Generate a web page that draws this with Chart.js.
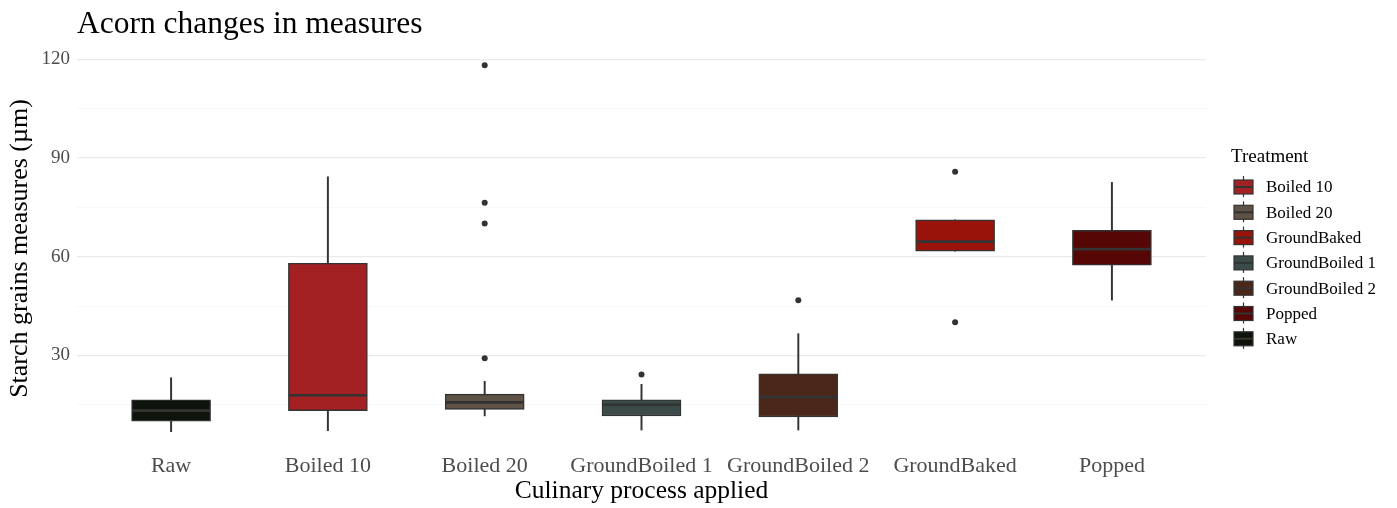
<!DOCTYPE html>
<html>
<head>
<meta charset="utf-8">
<script src="https://cdn.jsdelivr.net/npm/chart.js@4/dist/chart.umd.min.js"></script>
<style>
  html, body { margin: 0; padding: 0; background: #fff; }
  #wrap { width: 1397px; height: 508px; position: relative; }
</style>
</head>
<body>
<div id="wrap"><canvas id="chart"></canvas></div>
<script>
// Data
const categories = ['Raw', 'Boiled 10', 'Boiled 20', 'GroundBoiled 1', 'GroundBoiled 2', 'GroundBaked', 'Popped'];
const whiskerLow  = [6.8, 7.1, 11.6, 7.3, 7.3, 61.7, 46.8];
const q1          = [10.0, 13.2, 13.6, 11.6, 11.3, 61.7, 57.4];
const median      = [13.2, 17.9, 15.7, 15.0, 17.3, 64.6, 62.3];
const q3          = [16.5, 58.0, 18.2, 16.5, 24.4, 71.2, 68.0];
const whiskerHigh = [23.2, 84.3, 22.1, 21.2, 36.6, 71.2, 82.6];
const outlierCat  = [2, 2, 2, 2, 3, 4, 5, 5];
const outlierVal  = [118.2, 76.4, 70.1, 29.1, 24.2, 46.8, 85.8, 40.1];

const fillColors = ['#0e140c', '#a32122', '#5f5246', '#3b4b4a', '#4b271a', '#9a130b', '#560705'];
const OUTLINE = '#333333';
const SERIF = '"Liberation Serif", "Times New Roman", serif';

// ggplot style 5% expansion of the data range
const allVals = whiskerLow.concat(whiskerHigh, outlierVal);
const dMin = Math.min(...allVals), dMax = Math.max(...allVals);
const pad = (dMax - dMin) * 0.05;

const legendOrder = categories.map((c, i) => i).sort((a, b) => categories[a] < categories[b] ? -1 : 1);

// title + legend drawn to match ggplot placement
const decorPlugin = {
    id: 'decor',
    afterDraw(chart) {
        const ctx = chart.ctx;
        const area = chart.chartArea;
        ctx.save();
        // title, aligned with the panel
        ctx.fillStyle = '#000';
        ctx.font = '31.5px ' + SERIF;
        ctx.textBaseline = 'alphabetic';
        ctx.textAlign = 'left';
        ctx.fillText('Acorn changes in measures', area.left, 33);

        // legend
        const lx = area.right + 25;
        ctx.font = '19px ' + SERIF;
        ctx.textBaseline = 'middle';
        ctx.fillText('Treatment', lx, 157);
        ctx.font = '17px ' + SERIF;
        legendOrder.forEach((idx, k) => {
            const cy = 187 + k * 25.3;
            const kx = lx + 3, kw = 19;
            ctx.strokeStyle = OUTLINE;
            ctx.lineWidth = 1.2;
            ctx.beginPath();
            ctx.moveTo(kx + kw / 2, cy - 11);
            ctx.lineTo(kx + kw / 2, cy + 10);
            ctx.stroke();
            ctx.fillStyle = fillColors[idx];
            ctx.fillRect(kx, cy - 7, kw, 14);
            ctx.strokeRect(kx, cy - 7, kw, 14);
            ctx.lineWidth = 2;
            ctx.beginPath();
            ctx.moveTo(kx, cy);
            ctx.lineTo(kx + kw, cy);
            ctx.stroke();
            ctx.fillStyle = '#000';
            ctx.fillText(categories[idx], lx + 35, cy + 1);
        });
        ctx.restore();
    }
};

const ctx = document.getElementById('chart').getContext('2d');
const chart = new Chart(ctx, {
    type: 'bar',
    data: {
        datasets: [{
            // outliers
            type: 'scatter',
            data: outlierCat.map((c, i) => ({ x: c, y: outlierVal[i] })),
            pointRadius: 3,
            pointBackgroundColor: OUTLINE,
            pointBorderWidth: 0,
            order: 1
        }, {
            // medians
            type: 'scatter',
            data: median.map((m, i) => ({ x: i, y: m })),
            pointStyle: 'line',
            pointRadius: 39,
            borderColor: OUTLINE,
            borderWidth: 2.6,
            order: 2
        }, {
            // boxes
            type: 'bar',
            data: q1.map((v, i) => ({ x: i, y: [v, q3[i]] })),
            backgroundColor: fillColors,
            borderColor: OUTLINE,
            borderWidth: 1.4,
            borderSkipped: false,
            barThickness: 79,
            grouped: false,
            order: 3
        }, {
            // whiskers
            type: 'bar',
            data: whiskerLow.map((v, i) => ({ x: i, y: [v, whiskerHigh[i]] })),
            backgroundColor: OUTLINE,
            borderWidth: 0,
            barThickness: 1.3,
            grouped: false,
            order: 4
        }]
    },
    options: {
        responsive: true,
        maintainAspectRatio: false,
        animation: false,
        events: [],
        layout: { padding: { top: 47, right: 191, left: 0, bottom: 0 } },
        plugins: {
            legend: { display: false },
            tooltip: { enabled: false },
            title: { display: false }
        },
        scales: {
            x: {
                type: 'linear',
                offset: false,
                min: -0.6,
                max: categories.length - 0.4,
                afterFit: s => { s.height = 58; },
                grid: { display: false, drawTicks: false, tickLength: 0 },
                border: { display: false },
                ticks: {
                    stepSize: 1,
                    includeBounds: false,
                    autoSkip: false,
                    maxRotation: 0,
                    padding: 3,
                    color: '#4d4d4d',
                    font: { family: SERIF, size: 22 },
                    callback: v => Number.isInteger(v) ? categories[v] : ''
                },
                title: {
                    display: true,
                    text: 'Culinary process applied',
                    color: '#000',
                    font: { family: SERIF, size: 25.5 },
                    padding: { top: 0, bottom: 1 }
                }
            },
            y: {
                min: dMin - pad,
                max: dMax + pad,
                afterFit: s => { s.width = 77; },
                grid: {
                    drawTicks: false,
                    tickLength: 0,
                    color: c => c.tick && c.tick.value % 30 === 0 ? '#ebebeb' : '#f4f4f4',
                    lineWidth: c => c.tick && c.tick.value % 30 === 0 ? 1.3 : 0.7
                },
                border: { display: false },
                ticks: {
                    stepSize: 15,
                    includeBounds: false,
                    padding: 7,
                    color: '#4d4d4d',
                    font: { family: SERIF, size: 19 },
                    callback: v => v % 30 === 0 ? v : ''
                },
                title: {
                    display: true,
                    text: 'Starch grains measures (µm)',
                    color: '#000',
                    font: { family: SERIF, size: 26 },
                    padding: { top: 5, bottom: 0 }
                }
            }
        }
    },
    plugins: [decorPlugin]
});
</script>
</body>
</html>
